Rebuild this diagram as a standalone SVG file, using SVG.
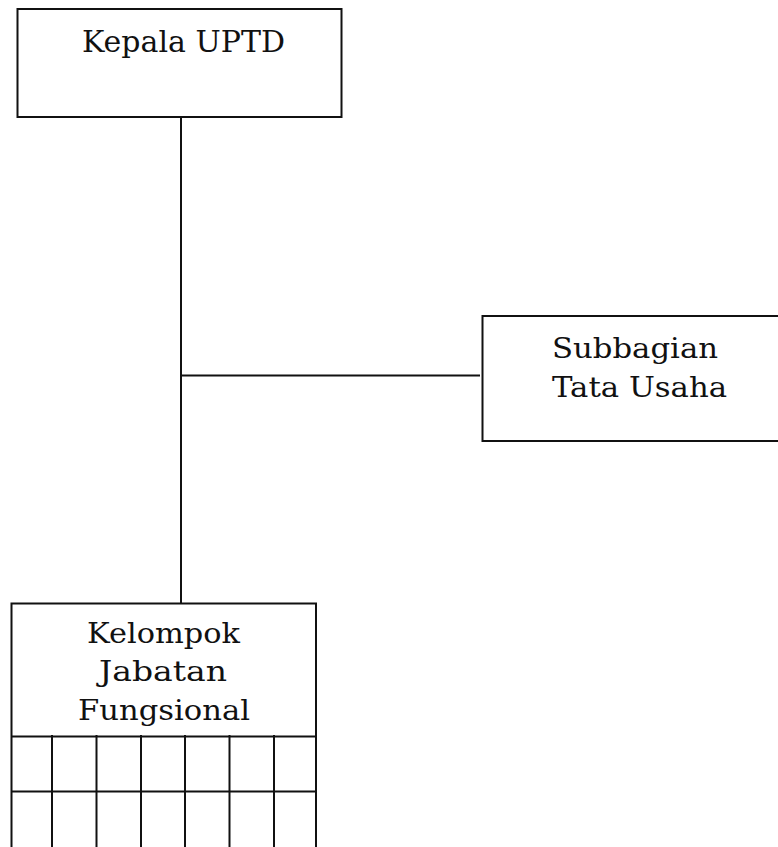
<svg xmlns="http://www.w3.org/2000/svg" width="778" height="847" viewBox="0 0 778 847">
<style>
.box{fill:#fff;stroke:#111;stroke-width:2}
.ln{stroke:#111;stroke-width:2;fill:none}
.t{font-family:"DejaVu Serif","Liberation Serif",serif;fill:#111;text-anchor:middle}
</style>
<rect width="778" height="847" fill="#fff"/>
<g id="connectors">
<line class="ln" x1="181" y1="117" x2="181" y2="604"/>
<line class="ln" x1="181" y1="375.5" x2="480" y2="375.5"/>
</g>
<g id="kepala">
<rect class="box" x="17.5" y="9" width="324" height="108"/>
<text class="t" x="183.5" y="52" font-size="29" textLength="203" lengthAdjust="spacingAndGlyphs">Kepala UPTD</text>
</g>
<g id="subbagian">
<rect class="box" x="482.5" y="316" width="300" height="125"/>
<text class="t" x="635" y="358" font-size="27" textLength="166" lengthAdjust="spacingAndGlyphs">Subbagian</text>
<text class="t" x="639.5" y="397" font-size="27" textLength="175" lengthAdjust="spacingAndGlyphs">Tata Usaha</text>
</g>
<g id="kelompok">
<rect class="box" x="11.5" y="603.5" width="304.5" height="260"/>
<text class="t" x="163.5" y="643" font-size="27" textLength="153" lengthAdjust="spacingAndGlyphs">Kelompok</text>
<text class="t" x="163" y="681" font-size="27" textLength="128" lengthAdjust="spacingAndGlyphs">Jabatan</text>
<text class="t" x="164" y="720" font-size="27" textLength="172" lengthAdjust="spacingAndGlyphs">Fungsional</text>
<line class="ln" x1="11.5" y1="736.5" x2="316" y2="736.5"/>
<line class="ln" x1="11.5" y1="791.5" x2="316" y2="791.5"/>
<line class="ln" x1="52" y1="735" x2="52" y2="847"/>
<line class="ln" x1="96.5" y1="735" x2="96.5" y2="847"/>
<line class="ln" x1="141" y1="735" x2="141" y2="847"/>
<line class="ln" x1="185" y1="735" x2="185" y2="847"/>
<line class="ln" x1="229.5" y1="735" x2="229.5" y2="847"/>
<line class="ln" x1="274" y1="735" x2="274" y2="847"/>
</g>
</svg>
